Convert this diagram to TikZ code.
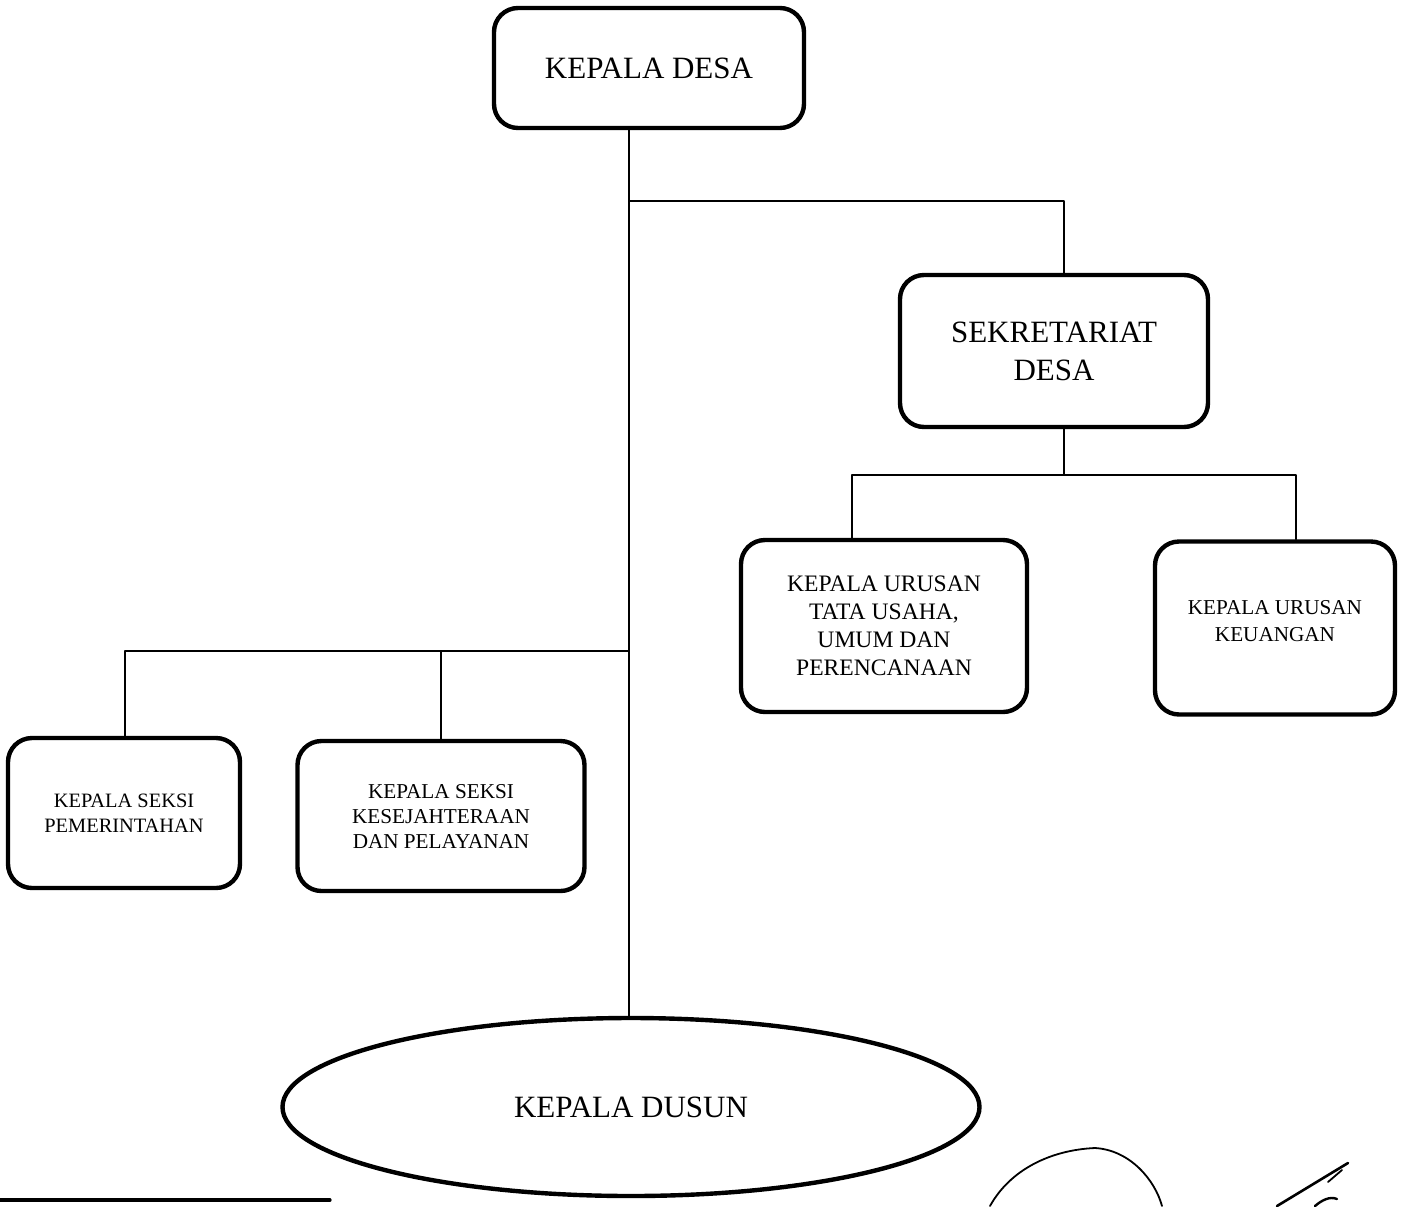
\documentclass[tikz,border=0pt]{standalone}
\usepackage{fontspec}
\setmainfont{Liberation Serif}
\usetikzlibrary{shapes.geometric}
\begin{document}
\begin{tikzpicture}[x=0.5pt, y=-0.5pt, line join=round, line cap=round]

		\tikzset{unit/.style={draw, line width=2.2pt, rounded corners=12pt, align=center, inner sep=2pt},
			link/.style={line width=0.8pt}}

		\useasboundingbox (0,0) rectangle (1404,1206);

		\node[unit, minimum width=155pt, minimum height=60pt, font=\fontsize{15.5}{18}\selectfont] (kades) at (649,68) {KEPALA DESA};
		\node[unit, minimum width=154pt, minimum height=76pt, font=\fontsize{15.5}{19}\selectfont] (sekdes) at (1054,351) {SEKRETARIAT\\DESA};
		\node[unit, minimum width=143pt, minimum height=86pt, font=\fontsize{11.8}{14}\selectfont] (kaurtu) at (884,626) {KEPALA URUSAN\\TATA USAHA,\\UMUM DAN\\PERENCANAAN};
		\node[unit, minimum width=120pt, minimum height=86.5pt, text depth=7pt, font=\fontsize{10.6}{13.5}\selectfont] (kaurkeu) at (1275,628) {KEPALA URUSAN\\KEUANGAN};
		\node[unit, minimum width=116pt, minimum height=75pt, font=\fontsize{10.2}{12.5}\selectfont] (kasipem) at (124,813) {KEPALA SEKSI\\PEMERINTAHAN};
		\node[unit, minimum width=143.5pt, minimum height=75pt, font=\fontsize{10.6}{12.5}\selectfont] (kasikes) at (441,816) {KEPALA SEKSI\\KESEJAHTERAAN\\DAN PELAYANAN};
		\node[draw, ellipse, line width=2.2pt, minimum width=348.5pt, minimum height=89pt, font=\fontsize{15.5}{18}\selectfont] (kadus) at (631,1107) {KEPALA DUSUN};

		\coordinate (cabsek) at (629,201);
		\coordinate (cabur) at (1064,475);
		\coordinate (cabtu) at (852,475);
		\coordinate (cabkeu) at (1296,475);
		\coordinate (cabsi) at (629,651);
		\coordinate (cabpem) at (125,651);

		\draw[link] (kades.south -| cabsek) -- (kadus.north -| cabsek);
		\draw[link] (cabsek) -| (sekdes.north -| cabur);
		\draw[link] (sekdes.south -| cabur) -- (cabur);
		\draw[link] (kaurtu.north -| cabtu) |- (cabkeu) -- (kaurkeu.north -| cabkeu);
		\draw[link] (kasipem.north -| cabpem) |- (cabsi);
		\draw[link] (kasikes.north) -- (kasikes.north |- cabsi);

		\draw[line width=1.6pt] (0,1200) -- (330,1200);
		\draw[line width=0.9pt] (990,1206) .. controls (1010,1170) and (1050,1150) .. (1095,1148) .. controls (1130,1150) and (1155,1180) .. (1162,1206);
		\draw[line width=1.3pt] (1277,1206) -- (1348,1163);
		\draw[line width=0.9pt] (1328,1182) -- (1342,1170);
		\draw[line width=1.2pt] (1315,1206) .. controls (1322,1200) and (1330,1196) .. (1337,1199);
	\end{tikzpicture}
\end{document}
